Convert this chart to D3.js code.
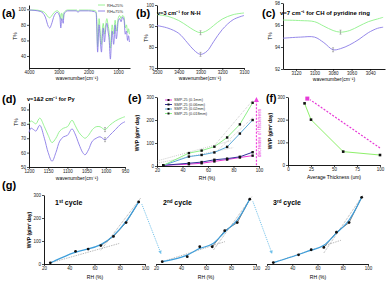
<!DOCTYPE html>
<html>
<head>
<meta charset="utf-8">
<script src="https://cdn.jsdelivr.net/npm/d3@7"></script>
<style>
body { margin: 0; background: #fff; }
text { font-family: "Liberation Sans", Arial, sans-serif; }
</style>
</head>
<body>
<script>
// (a) full FTIR spectrum
const ftirWave = [4000, 3800, 3600, 3450, 3350, 3300, 3250, 3150, 3050, 2960, 2930, 2900, 2870, 2850, 2820, 2700, 2400, 2350, 2300, 2000, 1800, 1740, 1720, 1690, 1660, 1640, 1600, 1560, 1530, 1500, 1460, 1420, 1380, 1340, 1300, 1260, 1230, 1200, 1150, 1100, 1060, 1030, 1000, 950, 900, 850, 800, 760, 720, 680, 650, 620];
const ftirRH25 = [99, 99, 98, 95, 90, 89, 91, 96, 98, 94, 87, 95, 92, 87, 96, 99, 99, 97.5, 99, 99, 98.5, 97, 88, 52, 78, 88, 70, 55, 74, 82, 68, 80, 88, 80, 70, 50, 65, 80, 68, 86, 72, 78, 88, 92, 88, 92, 90, 76, 80, 70, 75, 68];
const ftirRH75 = [99, 98.5, 97, 90, 78, 76, 80, 92, 96, 90, 76, 88, 86, 82, 94, 98, 98, 96, 98, 98, 97, 95, 80, 45, 70, 80, 60, 45, 65, 76, 58, 74, 82, 72, 60, 36, 55, 72, 55, 80, 62, 70, 84, 88, 84, 90, 86, 68, 72, 60, 66, 58];

// (b) N-H region
const nhWave = [3500, 3450, 3400, 3360, 3330, 3300, 3270, 3240, 3200, 3150, 3100];
const nhRH25 = [95.4, 94.6, 92.6, 90, 88, 86.8, 87.8, 90.2, 93.3, 95.4, 96.2];
const nhRH75 = [90.2, 89, 86.5, 82, 78.5, 76.5, 78, 82.5, 88.3, 93, 95];

// (c) CH of pyridine ring
const chWave = [3134, 3115, 3100, 3090, 3080, 3072, 3062, 3052, 3042, 3032, 3026];
const chRH25 = [96.45, 96.4, 96.3, 95.9, 95.5, 95.35, 95.5, 95.9, 96.3, 96.55, 96.7];
const chRH75 = [94.8, 94.9, 94.9, 94.4, 93.75, 93.85, 94.2, 94.7, 95.3, 95.7, 95.8];

// (d) Py region
const pyWave = [1200, 1195, 1188, 1182, 1172, 1160, 1150, 1140, 1130, 1120, 1110, 1100, 1088, 1080, 1070, 1060, 1054, 1045, 1035, 1025, 1015, 1002, 990, 975, 960, 950];
const pyRH25 = [80, 82, 81, 80, 84, 78, 72, 67, 70, 75, 77, 78, 82.5, 79, 74, 71, 70, 72, 76, 78, 78, 76, 79, 82, 84, 85];
const pyRH75 = [74, 77, 76, 75, 79, 70, 60, 54, 60, 68, 71, 72, 76.5, 73, 66, 60, 58.5, 62, 68, 70, 71, 69, 72, 76, 80, 81.5];

// (e) WVP vs RH
const rh = [25, 45, 55, 65, 75, 85, 95];
const seriesNames = ['SMP-25 (0.1mm)', 'SMP-25 (0.06mm)', 'SMP-25 (0.02mm)', 'SMP-25 (0.018mm)'];
const wvp01 = [3, 8, 12, 20, 28, 37, 45];
const wvp006 = [3, 12, 17, 27, 32, 40, 60];
const wvp002 = [3, 41, 48, 59, 83, 141, 200];
const wvp0018 = [3, 56, 67, 84, 124, 181, 275];
const eFits = [[[20, 22], [78, 110]], [[20, 12], [80, 80]], [[66, 95], [95, 285]], [[68, 70], [95, 210]]];

// (f) WVP vs thickness
const thickness = [18, 25, 60, 100];
const wvpAt95 = [272, 200, 59, 44];

// (g) cycles
const cycle1 = [5, 55, 65, 80, 120, 180, 270];
const cycle2 = [10, 32, 75, 75, 145, 180, 282];
const cycle3 = [6, 40, 62, 72, 138, 180, 290];
const gFits = [
    [[[25, 5], [80, 90]], [[65, 60], [97, 290]]],
    [[[25, 10], [75, 97]], [[66, 61], [97, 295]]],
    [[[25, 6], [79, 104]], [[65, 48], [96, 300]]]
];

const green = '#8ef08a';
const purple = '#8a7ce6';

const svg = d3.select('body').append('svg')
    .attr('width', 390)
    .attr('height', 284);

function panel(o) {
    const x = d3.scaleLinear().domain(o.xDom).range([o.left, o.right]);
    const y = d3.scaleLinear().domain(o.yDom).range([o.bottom, o.top]);
    const g = svg.append('g');
    g.append('g')
        .attr('transform', `translate(0,${o.bottom})`)
        .call(d3.axisBottom(x).tickValues(o.xTicks).tickFormat(d3.format('d'))
            .tickSize(2).tickPadding(1).tickSizeOuter(0));
    if (o.yTicks) {
        g.append('g')
            .attr('transform', `translate(${o.left},0)`)
            .call(d3.axisLeft(y).tickValues(o.yTicks).tickFormat(d3.format('d'))
                .tickSize(2).tickPadding(1).tickSizeOuter(0));
    }
    g.selectAll('.domain').attr('stroke', '#000').attr('stroke-width', 0.9);
    g.selectAll('.tick line').attr('stroke', '#000').attr('stroke-width', 0.7);
    g.selectAll('.tick text').attr('font-size', 4.5).attr('fill', '#222');
    return { x, y, g };
}

function label(txt, x, y, size, opts = {}) {
    const t = svg.append('text')
        .attr('x', x).attr('y', y)
        .attr('font-size', size)
        .attr('font-weight', opts.bold ? 'bold' : 'normal')
        .attr('text-anchor', opts.anchor || 'start')
        .attr('fill', opts.fill || '#000')
        .text(txt);
    if (opts.rotate) t.attr('transform', `rotate(-90,${x},${y})`);
    return t;
}

function drawLine(p, xs, ys, color, width, curve) {
    p.g.append('path')
        .datum(xs.map((d, i) => [d, ys[i]]))
        .attr('fill', 'none')
        .attr('stroke', color)
        .attr('stroke-width', width)
        .attr('d', d3.line().x(d => p.x(d[0])).y(d => p.y(d[1])).curve(curve || d3.curveLinear));
}

function errTick(p, xv, yv, color) {
    const cx = p.x(xv), cy = p.y(yv);
    p.g.append('path')
        .attr('d', `M${cx},${cy - 2}V${cy + 2}M${cx - 1},${cy - 2}H${cx + 1}M${cx - 1},${cy + 2}H${cx + 1}`)
        .attr('stroke', color).attr('stroke-width', 0.5).attr('fill', 'none');
}

// ---------- (a)
const pa = panel({ left: 29, right: 130, top: 5, bottom: 68, xDom: [4000, 600], yDom: [24.6, 105.5],
    xTicks: [4000, 3000, 2000, 1000], yTicks: [40, 60, 80, 100] });
drawLine(pa, ftirWave, ftirRH25, green, 0.9, d3.curveMonotoneX);
drawLine(pa, ftirWave, ftirRH75, purple, 0.9, d3.curveMonotoneX);
label('(a)', 2, 17, 11, { bold: true });
label('T%', 17, 36, 5, { rotate: true, anchor: 'middle' });
label('wavenumber(cm⁻¹)', 77, 80, 5, { anchor: 'middle' });
[['RH=25%', green], ['RH=75%', purple]].forEach((d, i) => {
    svg.append('line').attr('x1', 98).attr('x2', 105).attr('y1', 5 + i * 6).attr('y2', 5 + i * 6)
        .attr('stroke', d[1]).attr('stroke-width', 0.9);
    label(d[0], 107, 6.5 + i * 6, 4, { fill: '#333' });
});

// ---------- (b)
const pb = panel({ left: 157, right: 244, top: 5, bottom: 68, xDom: [3500, 3100], yDom: [70, 100],
    xTicks: [3500, 3400, 3300, 3200, 3100], yTicks: [70, 80, 90, 100] });
drawLine(pb, nhWave, nhRH25, green, 0.9, d3.curveCatmullRom);
drawLine(pb, nhWave, nhRH75, purple, 0.9, d3.curveCatmullRom);
errTick(pb, 3300, nhRH25[5], '#777');
errTick(pb, 3300, nhRH75[5], '#777');
label('(b)', 136, 17, 11, { bold: true });
label('v=3 cm⁻¹ for N-H', 157, 15, 5.6, { bold: true });
label('T%', 148, 38, 5, { rotate: true, anchor: 'middle' });
label('wavenumber(cm⁻¹)', 200, 80, 5, { anchor: 'middle' });

// ---------- (c)
const pc = panel({ left: 283, right: 385, top: 3, bottom: 69, xDom: [3134, 3024], yDom: [92, 98],
    xTicks: [3120, 3100, 3080, 3060, 3040], yTicks: [92, 94, 96, 98] });
drawLine(pc, chWave, chRH25, green, 0.9, d3.curveCatmullRom);
drawLine(pc, chWave, chRH75, purple, 0.9, d3.curveCatmullRom);
errTick(pc, 3072, chRH25[5], '#777');
errTick(pc, 3080, chRH75[4], '#777');
label('(c)', 262, 17, 11, { bold: true });
label('v=7 cm⁻¹ for CH of pyridine ring', 280, 15, 6, { bold: true });
label('T%', 272, 36, 5, { rotate: true, anchor: 'middle' });
label('wavenumber(cm⁻¹)', 334, 81, 5, { anchor: 'middle' });

// ---------- (d)
const pd = panel({ left: 29, right: 125, top: 103, bottom: 167, xDom: [1200, 950], yDom: [50, 94.5],
    xTicks: [1200, 1150, 1100, 1050, 1000, 950], yTicks: [50, 60, 70, 80, 90] });
drawLine(pd, pyWave, pyRH25, green, 0.9, d3.curveCatmullRom);
drawLine(pd, pyWave, pyRH75, purple, 0.9, d3.curveCatmullRom);
errTick(pd, 1002, pyRH25[21], '#777');
errTick(pd, 1002, pyRH75[21], '#777');
label('(d)', 2, 103, 11, { bold: true });
label('v=1&2 cm⁻¹ for Py', 27, 101, 5.6, { bold: true });
label('T%', 18, 122, 5, { rotate: true, anchor: 'middle' });
label('wavenumber(cm⁻¹)', 77, 180, 5, { anchor: 'middle' });

// ---------- (e)
const pe = panel({ left: 157, right: 259, top: 97, bottom: 166, xDom: [20, 100], yDom: [0, 300],
    xTicks: [20, 40, 60, 80, 100], yTicks: [0, 100, 200, 300] });
eFits.forEach(f => {
    pe.g.append('line')
        .attr('x1', pe.x(f[0][0])).attr('y1', pe.y(f[0][1]))
        .attr('x2', pe.x(f[1][0])).attr('y2', pe.y(f[1][1]))
        .attr('stroke', '#999').attr('stroke-width', 0.6).attr('stroke-dasharray', '0.8,1.2');
});
const eSeries = [[wvp01, '#e63ad6'], [wvp006, '#33339a'], [wvp002, '#5aa8d8'], [wvp0018, '#8ef08a']];
eSeries.forEach(s => {
    drawLine(pe, rh, s[0], s[1], 1);
    pe.g.selectAll(null).data(rh).enter().append('rect')
        .attr('x', (d) => pe.x(d) - 1.2)
        .attr('y', (d, i) => pe.y(s[0][i]) - 1.2)
        .attr('width', 2.4).attr('height', 2.4).attr('fill', '#111');
});
seriesNames.forEach((n, i) => {
    const ly = 100 + i * 4.5;
    svg.append('line').attr('x1', 165).attr('x2', 172).attr('y1', ly).attr('y2', ly)
        .attr('stroke', eSeries[i][1]).attr('stroke-width', 1);
    svg.append('rect').attr('x', 167.5).attr('y', ly - 1).attr('width', 2).attr('height', 2).attr('fill', '#111');
    label(n, 174, ly + 1.4, 3.8, { fill: '#333' });
});
// decrease arrow
pe.g.append('line')
    .attr('x1', pe.x(98)).attr('x2', pe.x(98))
    .attr('y1', pe.y(3)).attr('y2', pe.y(285))
    .attr('stroke', '#ee44dd').attr('stroke-width', 1.2).attr('stroke-dasharray', '2,1.5');
pe.g.append('path')
    .attr('d', `M${pe.x(98)},${pe.y(300)}l-2.5,5h5z`)
    .attr('fill', '#ee44dd');
label('decrease of thickness', 261, 133, 5, { rotate: true, anchor: 'middle', fill: '#ee44dd' });
label('(e)', 128, 102, 11, { bold: true });
label('WVP (g/m² day)', 139, 133, 5, { rotate: true, anchor: 'middle', bold: true });
label('RH (%)', 207, 180, 5, { anchor: 'middle' });

// ---------- (f)
const pf = panel({ left: 288, right: 380, top: 97, bottom: 165, xDom: [0, 100], yDom: [0, 300],
    xTicks: [0, 25, 50, 75, 100], yTicks: [0, 100, 200, 300] });
pf.g.append('line')
    .attr('x1', pf.x(100)).attr('y1', pf.y(75))
    .attr('x2', pf.x(24)).attr('y2', pf.y(288))
    .attr('stroke', '#e63ad6').attr('stroke-width', 1.2).attr('stroke-dasharray', '2,1.5');
pf.g.append('rect')
    .attr('x', pf.x(21) - 2).attr('y', pf.y(293) - 2).attr('width', 4).attr('height', 4)
    .attr('fill', '#e63ad6');
drawLine(pf, thickness, wvpAt95, '#8ef06a', 1);
pf.g.selectAll(null).data(thickness).enter().append('rect')
    .attr('x', d => pf.x(d) - 1.3)
    .attr('y', (d, i) => pf.y(wvpAt95[i]) - 1.3)
    .attr('width', 2.6).attr('height', 2.6).attr('fill', '#111');
label('(f)', 266, 102, 10.5, { bold: true });
label('WVP (g/m² day)', 272, 131, 5, { rotate: true, anchor: 'middle', bold: true });
label('Average Thickness (um)', 334, 179, 5, { anchor: 'middle' });

// ---------- (g)
const gDefs = [
    { left: 44, right: 145, data: cycle1, name: '1', sup: 'st', tx: 55, yAxis: true, cx: 95 },
    { left: 156, right: 256, data: cycle2, name: '2', sup: 'nd', tx: 163, yAxis: false, cx: 206 },
    { left: 267, right: 368, data: cycle3, name: '3', sup: 'rd', tx: 273, yAxis: false, cx: 318 }
];
const gPanels = gDefs.map((d, k) => {
    const p = panel({ left: d.left, right: d.right, top: 195, bottom: 264, xDom: [20, 100], yDom: [0, 300],
        xTicks: [20, 40, 60, 80, 100], yTicks: d.yAxis ? [0, 100, 200, 300] : null });
    gFits[k].forEach(f => {
        p.g.append('line')
            .attr('x1', p.x(f[0][0])).attr('y1', p.y(f[0][1]))
            .attr('x2', p.x(f[1][0])).attr('y2', p.y(f[1][1]))
            .attr('stroke', '#666').attr('stroke-width', 0.6).attr('stroke-dasharray', '0.8,1');
    });
    drawLine(p, rh.slice(3), d.data.slice(3), '#222', 0.6);
    drawLine(p, rh, d.data, '#3d9edb', 1.2, d3.curveBasis);
    p.g.selectAll(null).data(rh).enter().append('circle')
        .attr('cx', v => p.x(v))
        .attr('cy', (v, i) => p.y(d.data[i]))
        .attr('r', 1.4).attr('fill', '#111');
    const t = svg.append('text').attr('x', d.tx).attr('y', 205)
        .attr('font-size', 7).attr('font-weight', 'bold');
    t.append('tspan').text(d.name);
    t.append('tspan').text(d.sup).attr('font-size', 4.5).attr('dy', -2.5);
    t.append('tspan').text(' cycle').attr('dy', 2.5);
    label('RH (%)', d.cx, 279, 5, { anchor: 'middle' });
    return p;
});
label('(g)', 2, 189, 11, { bold: true });
label('WVP (g/m² day)', 31, 230, 5, { rotate: true, anchor: 'middle', bold: true });

// dotted arrows between cycles
[[0, 1], [1, 2]].forEach(([a, b]) => {
    const pA = gPanels[a], pB = gPanels[b];
    const x1 = pA.x(97.5), y1 = pA.y(gDefs[a].data[6] - 10);
    const x2 = pB.x(24), y2 = pB.y(45);
    svg.append('line').attr('x1', x1).attr('y1', y1).attr('x2', x2).attr('y2', y2)
        .attr('stroke', '#6fc0ea').attr('stroke-width', 1).attr('stroke-dasharray', '1,1');
    const ang = Math.atan2(y2 - y1, x2 - x1) * 180 / Math.PI;
    svg.append('path').attr('d', 'M0,0l-3,-1.8v3.6z').attr('fill', '#6fc0ea')
        .attr('transform', `translate(${x2},${y2}) rotate(${ang})`);
});
</script>
</body>
</html>
